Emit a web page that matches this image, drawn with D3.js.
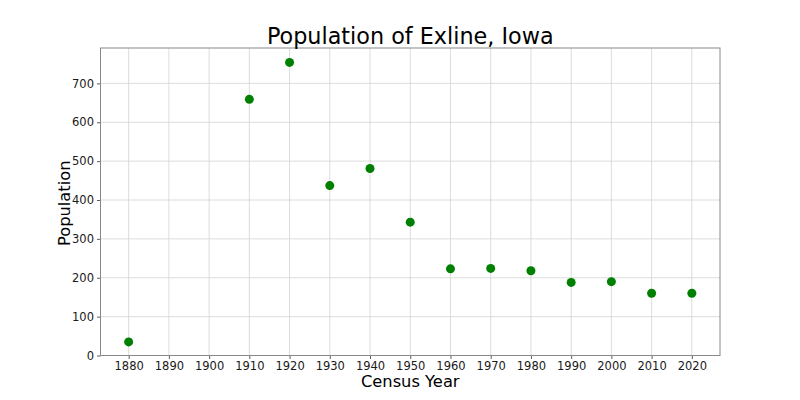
<!DOCTYPE html>
<html>
<head>
<meta charset="utf-8">
<script src="https://cdn.jsdelivr.net/npm/d3@7"></script>
<style>
body { margin: 0; background: #fff; }
svg { display: block; font-family: "DejaVu Sans", sans-serif; }
</style>
</head>
<body>
<svg id="chart" width="800" height="400"></svg>
<script>
const years = [1880, 1910, 1920, 1930, 1940, 1950, 1960, 1970, 1980, 1990, 2000, 2010, 2020];
const population = [35, 659, 754, 437, 481, 343, 223, 224, 218, 188, 190, 160, 160];
const xTicks = [1880, 1890, 1900, 1910, 1920, 1930, 1940, 1950, 1960, 1970, 1980, 1990, 2000, 2010, 2020];
const yTicks = [0, 100, 200, 300, 400, 500, 600, 700];
const title = "Population of Exline, Iowa";
const xLabel = "Census Year";
const yLabel = "Population";

const svg = d3.select("#chart");
const L = 100.5, R = 720, T = 48, B = 355.5;

const x = d3.scaleLinear().domain([1873, 2027]).range([L, R]);
const y = d3.scaleLinear().domain([0, 791]).range([B, T]);

// grid
svg.append("g").selectAll("line").data(xTicks).join("line")
  .attr("x1", d => x(d)).attr("x2", d => x(d)).attr("y1", T).attr("y2", B)
  .attr("stroke", "#d3d3d3").attr("stroke-width", 0.8);
svg.append("g").selectAll("line").data(yTicks).join("line")
  .attr("x1", L).attr("x2", R).attr("y1", d => y(d)).attr("y2", d => y(d))
  .attr("stroke", "#d3d3d3").attr("stroke-width", 0.8);

// axes
const xAxis = svg.append("g").attr("transform", `translate(0,${B})`)
  .call(d3.axisBottom(x).tickValues(xTicks).tickFormat(d3.format("d")).tickSizeOuter(0).tickSize(3.5).tickPadding(2.5));
const yAxis = svg.append("g").attr("transform", `translate(${L},0)`)
  .call(d3.axisLeft(y).tickValues(yTicks).tickFormat(d3.format("d")).tickSizeOuter(0).tickSize(3.5).tickPadding(3));
[xAxis, yAxis].forEach(a => {
  a.select(".domain").remove();
  a.selectAll("line").attr("stroke", "#333").attr("stroke-width", 0.8);
  a.selectAll("text").attr("font-size", 11.5).attr("fill", "#1a1a1a").attr("font-family", "DejaVu Sans");
});

// frame
svg.append("rect").attr("x", L).attr("y", T).attr("width", R - L).attr("height", B - T)
  .attr("fill", "none").attr("stroke", "#888").attr("stroke-width", 1);

// points
svg.append("g").selectAll("circle").data(years.map((d, i) => [d, population[i]])).join("circle")
  .attr("cx", d => x(d[0])).attr("cy", d => y(d[1])).attr("r", 4.5).attr("fill", "#008000");

// labels
svg.append("text").attr("x", (L + R) / 2).attr("y", 44).attr("text-anchor", "middle")
  .attr("font-size", 22.3).attr("fill", "#000").text(title);
svg.append("text").attr("x", (L + R) / 2).attr("y", 387).attr("text-anchor", "middle")
  .attr("font-size", 16.3).attr("fill", "#000").text(xLabel);
svg.append("text").attr("transform", `translate(69.5,${(T + B) / 2 + 1.5}) rotate(-90)`).attr("text-anchor", "middle")
  .attr("font-size", 16.3).attr("fill", "#000").text(yLabel);
</script>
</body>
</html>
